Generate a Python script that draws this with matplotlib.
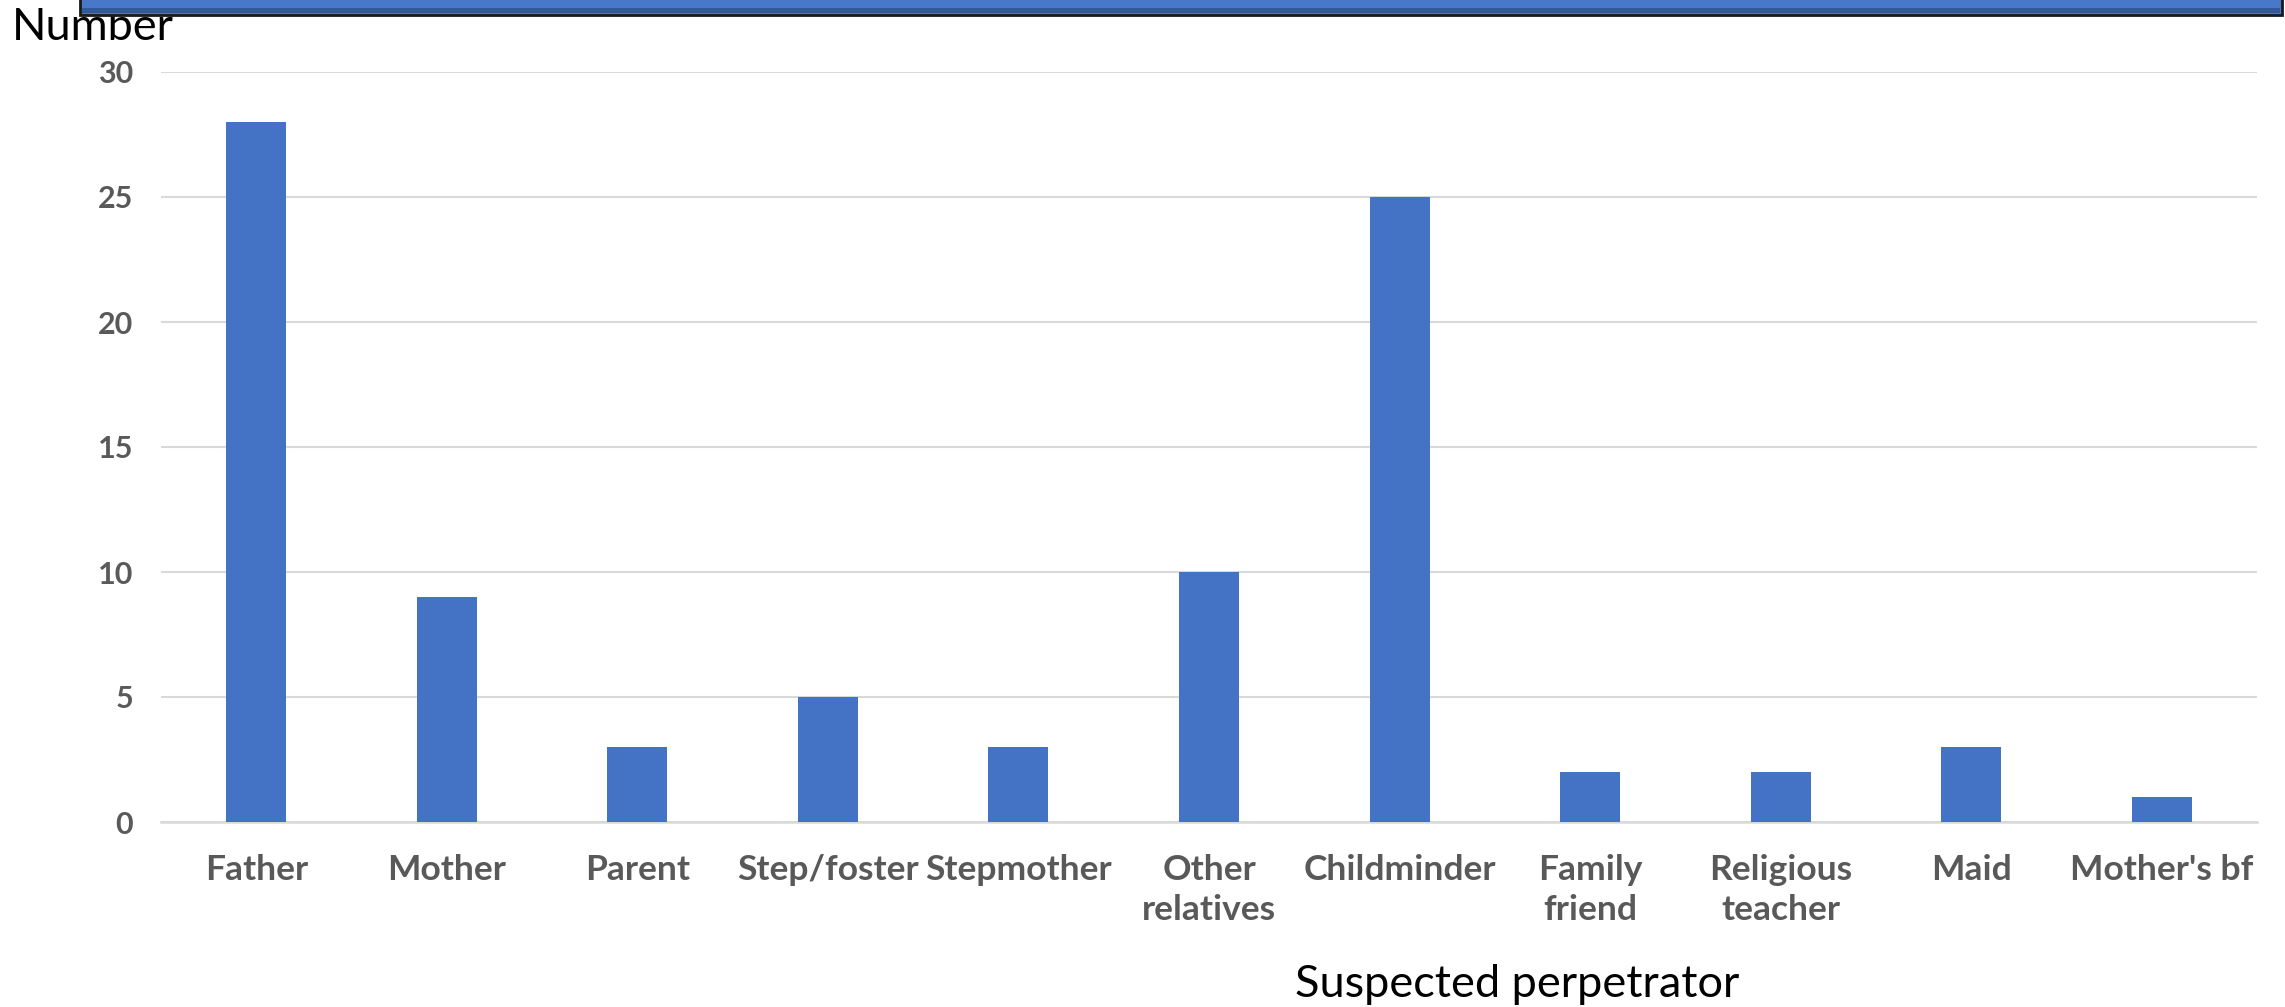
import matplotlib
matplotlib.use("Agg")
import matplotlib.pyplot as plt
from matplotlib.patches import Rectangle
import numpy as np

# Data
categories = ["Father", "Mother", "Parent", "Step/foster", "Stepmother",
              "Other\nrelatives", "Childminder", "Family\nfriend",
              "Religious\nteacher", "Maid", "Mother's bf"]
counts = [28, 9, 3, 5, 3, 10, 25, 2, 2, 3, 1]
yticks = [0, 5, 10, 15, 20, 25, 30]

bar_color = "#4472C4"
grid_color = "#D9D9D9"
label_grey = "#595959"

plt.rcParams["font.family"] = ["Lato", "DejaVu Sans"]

W, H = 2285, 1007
fig = plt.figure(figsize=(W / 100, H / 100), dpi=100)
ax = fig.add_axes([161 / W, 1 - 822 / H, (2257 - 161) / W, (822 - 72) / H])

x = np.arange(len(categories))
ax.bar(x, counts, width=0.315, color=bar_color, zorder=3)

ax.set_xlim(-0.5, len(categories) - 0.5)
ax.set_ylim(0, 30)
ax.set_yticks(yticks)
ax.set_xticks(x)
ax.set_xticklabels(categories, linespacing=1.3)
ax.yaxis.grid(True, color=grid_color, linewidth=1.5, zorder=0)

for s in ["top", "right", "left"]:
    ax.spines[s].set_visible(False)
ax.spines["bottom"].set_color(grid_color)
ax.spines["bottom"].set_linewidth(1.8)

ax.tick_params(axis="both", length=0, colors=label_grey)
ax.tick_params(axis="y", pad=20, labelsize=22)
ax.tick_params(axis="x", pad=23, labelsize=25.5)
for lab in ax.get_xticklabels() + ax.get_yticklabels():
    lab.set_fontweight("bold")

# axis titles placed as in the original
fig.text(12 / W, 1 - 40 / H, "Number", fontsize=32.5, color="black",
         ha="left", va="baseline")
fig.text(1517 / W, 1 - 997 / H, "Suspected perpetrator", fontsize=32.5,
         color="black", ha="center", va="baseline")

# blue band cut off at the top edge
fig.patches.append(Rectangle((80 / W, 1 - 15 / H), (2282 - 80) / W, 30 / H,
                             transform=fig.transFigure, facecolor="#4A78C8",
                             edgecolor="#1a1a1a", linewidth=2, zorder=5))
fig.patches.append(Rectangle((82 / W, 1 - 13 / H), (2280 - 82) / W, 5 / H,
                             transform=fig.transFigure, facecolor="#36589A",
                             edgecolor="none", zorder=6))

fig.savefig("out.png", dpi=100)
